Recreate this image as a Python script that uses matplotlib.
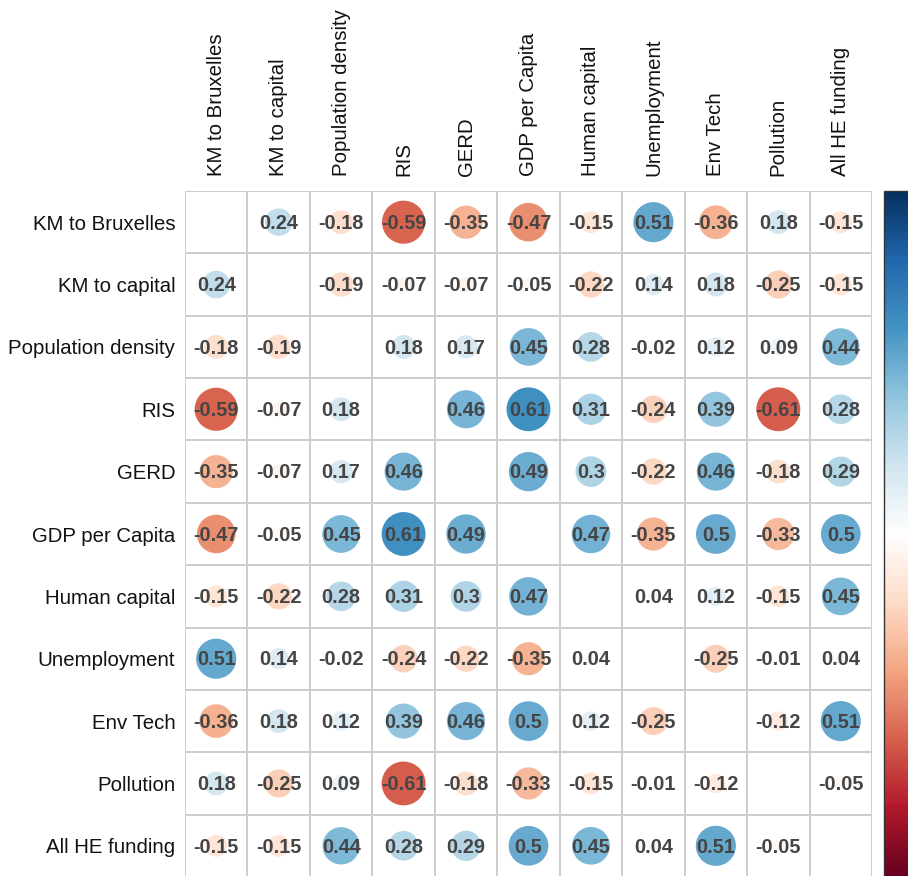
import matplotlib
matplotlib.use("Agg")
import matplotlib.pyplot as plt
import numpy as np
from matplotlib.colors import LinearSegmentedColormap, Normalize
from matplotlib.patches import Circle
from matplotlib.colorbar import ColorbarBase

plt.rcParams['font.family'] = ['Liberation Sans', 'DejaVu Sans']

variables = ["KM to Bruxelles", "KM to capital", "Population density", "RIS", "GERD",
             "GDP per Capita", "Human capital", "Unemployment", "Env Tech", "Pollution",
             "All HE funding"]

# correlation matrix, diagonal left empty
corr = [
    [None, 0.24, -0.18, -0.59, -0.35, -0.47, -0.15, 0.51, -0.36, 0.18, -0.15],
    [0.24, None, -0.19, -0.07, -0.07, -0.05, -0.22, 0.14, 0.18, -0.25, -0.15],
    [-0.18, -0.19, None, 0.18, 0.17, 0.45, 0.28, -0.02, 0.12, 0.09, 0.44],
    [-0.59, -0.07, 0.18, None, 0.46, 0.61, 0.31, -0.24, 0.39, -0.61, 0.28],
    [-0.35, -0.07, 0.17, 0.46, None, 0.49, 0.3, -0.22, 0.46, -0.18, 0.29],
    [-0.47, -0.05, 0.45, 0.61, 0.49, None, 0.47, -0.35, 0.5, -0.33, 0.5],
    [-0.15, -0.22, 0.28, 0.31, 0.3, 0.47, None, 0.04, 0.12, -0.15, 0.45],
    [0.51, 0.14, -0.02, -0.24, -0.22, -0.35, 0.04, None, -0.25, -0.01, 0.04],
    [-0.36, 0.18, 0.12, 0.39, 0.46, 0.5, 0.12, -0.25, None, -0.12, 0.51],
    [0.18, -0.25, 0.09, -0.61, -0.18, -0.33, -0.15, -0.01, -0.12, None, -0.05],
    [-0.15, -0.15, 0.44, 0.28, 0.29, 0.5, 0.45, 0.04, 0.51, -0.05, None],
]

rdbu = ["#67001F", "#B2182B", "#D6604D", "#F4A582", "#FDDBC7", "#FFFFFF",
        "#D1E5F0", "#92C5DE", "#4393C3", "#2166AC", "#053061"]
cmap = LinearSegmentedColormap.from_list("rdbu2", rdbu, N=200)
norm = Normalize(-1, 1)

W, H = 908, 876
fig = plt.figure(figsize=(W / 100, H / 100), dpi=100)
n = len(variables)
ax = fig.add_axes([185 / W, -1 / H, 687 / W, 686 / H])
ax.set_xlim(0, n)
ax.set_ylim(n, 0)
ax.set_aspect("auto")

for i in range(n):
    for j in range(n):
        v = corr[i][j]
        if v is None:
            continue
        r = 0.9 * np.sqrt(abs(v)) / 2
        ax.add_patch(Circle((j + 0.5, i + 0.5), r, facecolor=cmap(norm(v)),
                            edgecolor="none", zorder=2))
        ax.text(j + 0.5, i + 0.52, f"{v:g}", ha="center", va="center",
                fontsize=14.3, fontweight="bold", color="#454545", zorder=3)

for k in range(n + 1):
    ax.axhline(k, color="#cccccc", lw=1.4, zorder=1)
    ax.axvline(k, color="#cccccc", lw=1.4, zorder=1)

ax.set_xticks(np.arange(n) + 0.5)
ax.set_yticks(np.arange(n) + 0.5)
ax.set_xticklabels(variables, rotation=90, fontsize=14.7, color="#111111")
ax.set_yticklabels(variables, fontsize=14.7, color="#111111")
ax.xaxis.tick_top()
ax.tick_params(axis="x", length=0, pad=11)
ax.tick_params(axis="y", length=0, pad=7)
for s in ax.spines.values():
    s.set_visible(False)

cax = fig.add_axes([884 / W, -1 / H, 40 / W, 686 / H])
cb = ColorbarBase(cax, cmap=cmap, norm=norm, orientation="vertical")
cb.outline.set_linewidth(1.0)
cb.outline.set_edgecolor("#333333")
cax.set_yticks([])

fig.savefig("out.png", dpi=100)
